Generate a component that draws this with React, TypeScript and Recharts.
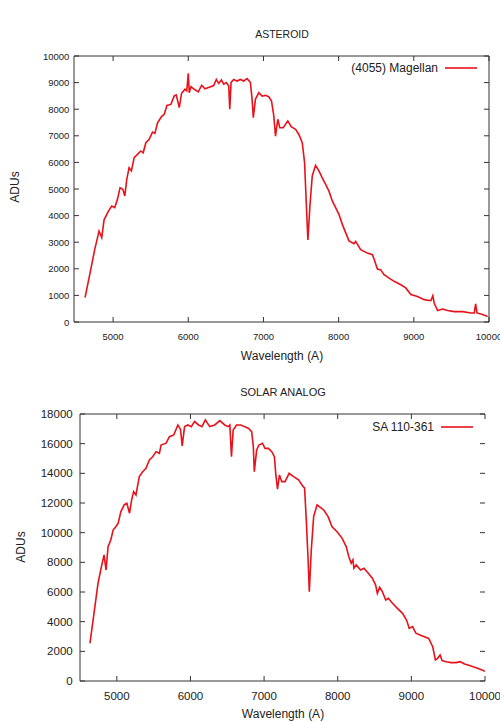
import { Legend, Line, LineChart, XAxis, YAxis } from "recharts";

const FONT = '"Liberation Sans", Arial, sans-serif';
const RED = "#e8121a";
const AXIS = "#333";
const TICK_LEN = 5;

const waveTicks = [5000, 6000, 7000, 8000, 9000, 10000];
const asteroidTicks = [0, 1000, 2000, 3000, 4000, 5000, 6000, 7000, 8000, 9000, 10000];
const solarTicks = [0, 2000, 4000, 6000, 8000, 10000, 12000, 14000, 16000, 18000];

// (4055) Magellan, wavelength (A) and counts
const asteroidWave = [
  4627, 4703, 4756, 4813, 4849, 4880, 4938, 4982, 5022, 5058, 5093, 5129, 5156, 5182, 5213, 5244, 5280, 5324,
  5369, 5400, 5436, 5480, 5524, 5556, 5591, 5644, 5680, 5716, 5769, 5813, 5840, 5880, 5911, 5956, 5980, 6000,
  6013, 6036, 6080, 6133, 6178, 6222, 6271, 6338, 6373, 6404, 6440, 6471, 6507, 6538, 6552, 6569, 6604, 6649,
  6693, 6738, 6782, 6827, 6849, 6865, 6893, 6938, 6982, 7027, 7071, 7107, 7138, 7160, 7191, 7218, 7262, 7324,
  7369, 7427, 7471, 7516, 7547, 7573, 7591, 7618, 7649, 7693, 7738, 7782, 7827, 7871, 7916, 7960, 8004, 8049,
  8093, 8138, 8204, 8227, 8293, 8382, 8449, 8471, 8516, 8560, 8604, 8671, 8738, 8827, 8893, 8960, 9049, 9138,
  9227, 9253, 9271, 9316, 9382, 9449, 9538, 9649, 9760, 9804, 9822, 9840, 9916, 9982,
];
const asteroidFlux = [
  915, 1980, 2730, 3420, 3170, 3840, 4170, 4360, 4300, 4610, 5050, 4990, 4740, 5370, 5800, 5680, 6180, 6300,
  6430, 6360, 6740, 6870, 7140, 7090, 7490, 7720, 7810, 8140, 8180, 8500, 8540, 8060, 8600, 8750, 8690, 9350,
  8620, 8850, 8750, 8650, 8900, 8770, 8820, 8890, 9120, 8970, 9100, 8940, 9000, 8870, 8000, 9000, 9120, 9060,
  9120, 9060, 9150, 9000, 8370, 7680, 8370, 8620, 8490, 8520, 8470, 8310, 7740, 6990, 7620, 7300, 7300, 7560,
  7340, 7240, 7050, 6740, 5990, 4240, 3080, 4360, 5490, 5890, 5680, 5420, 5170, 4920, 4550, 4300, 4050, 3670,
  3360, 3050, 2940, 3030, 2720, 2590, 2530, 2370, 1990, 1960, 1780, 1650, 1530, 1400, 1280, 1030, 960, 840,
  800, 990, 710, 430, 490, 430, 390, 390, 340, 340, 680, 340, 280, 210,
];

// SA 110-361 solar analog
const solarWave = [
  4635, 4690, 4745, 4791, 4827, 4854, 4881, 4918, 4950, 4986, 5018, 5055, 5100, 5136, 5173, 5201, 5228, 5260,
  5305, 5351, 5396, 5442, 5487, 5533, 5578, 5601, 5669, 5715, 5774, 5829, 5865, 5888, 5920, 5965, 6011, 6056,
  6111, 6156, 6202, 6261, 6330, 6398, 6466, 6512, 6535, 6557, 6580, 6626, 6685, 6731, 6785, 6831, 6854, 6867,
  6899, 6930, 6977, 7013, 7058, 7104, 7140, 7158, 7182, 7209, 7240, 7285, 7340, 7400, 7468, 7514, 7550, 7573,
  7596, 7614, 7641, 7673, 7719, 7764, 7810, 7869, 7923, 7991, 8060, 8115, 8151, 8183, 8206, 8220, 8251, 8310,
  8356, 8415, 8470, 8515, 8538, 8570, 8606, 8652, 8688, 8743, 8811, 8880, 8934, 8971, 9016, 9062, 9117, 9176,
  9235, 9290, 9326, 9357, 9390, 9417, 9471, 9540, 9608, 9663, 9722, 9790, 9859, 9927, 10000,
];
const solarFlux = [
  2540, 4560, 6590, 7710, 8500, 7480, 9060, 9510, 10180, 10400, 10630, 11420, 11870, 11980, 11310, 12200, 12770,
  12540, 13780, 14110, 14340, 14900, 15120, 15460, 15350, 15910, 16030, 16470, 16590, 17260, 16960, 15850, 17150,
  17260, 17150, 17490, 17260, 17150, 17600, 17150, 17260, 17550, 17260, 17150, 17260, 15120, 16920, 17260, 17260,
  17150, 17040, 16810, 15800, 14110, 15570, 15910, 16030, 15680, 15680, 15460, 15120, 14000, 12930, 13890, 13440,
  13440, 14000, 13780, 13560, 13220, 13000, 10860, 8380, 6020, 8830, 11080, 11870, 11710, 11530, 11080, 10400,
  10060, 9620, 9060, 8380, 7940, 8160, 7600, 7830, 7490, 7600, 7260, 6930, 6470, 5910, 6320, 6020, 5460, 5580,
  5240, 4900, 4560, 4110, 3550, 3670, 3220, 3100, 2990, 2870, 2310, 1420, 1530, 1750, 1380, 1300, 1240, 1240,
  1300, 1150, 1040, 920, 810, 650,
];

const toRows = (wave: number[], flux: number[]) => wave.map((w, i) => ({ w, f: flux[i] }));

// gnuplot style ticks: short marks pointing into the plot on all four sides, labels outside
const bottomTick = (fontSize: number, gap: number, plotTop: number) => (props: any) => {
  const { x, y, payload } = props;
  return (
    <g>
      <line x1={x} x2={x} y1={y} y2={y - TICK_LEN} stroke={AXIS} />
      <line x1={x} x2={x} y1={plotTop} y2={plotTop + TICK_LEN} stroke={AXIS} />
      <text x={x} y={y + gap} textAnchor="middle" dominantBaseline="central" fill="#222" fontSize={fontSize} fontFamily={FONT}>
        {payload.value}
      </text>
    </g>
  );
};

const leftTick = (fontSize: number, gap: number, plotRight: number) => (props: any) => {
  const { x, y, payload } = props;
  return (
    <g>
      <line x1={x} x2={x + TICK_LEN} y1={y} y2={y} stroke={AXIS} />
      <line x1={plotRight} x2={plotRight - TICK_LEN} y1={y} y2={y} stroke={AXIS} />
      <text x={x - gap} y={y} textAnchor="end" dominantBaseline="central" fill="#222" fontSize={fontSize} fontFamily={FONT}>
        {payload.value}
      </text>
    </g>
  );
};

interface PanelProps {
  rows: { w: number; f: number }[];
  name: string;
  top: number;
  height: number;
  margin: { top: number; right: number; bottom: number; left: number };
  xDomain: [number, number];
  yDomain: [number, number];
  yTicks: number[];
  tickFont: number;
  xGap: number;
  yGap: number;
  legendTop: number;
  legendRight: number;
  rightLine: boolean;
}

function SpectrumPanel(p: PanelProps) {
  const plotTop = p.margin.top + 1;
  const plotRight = 500 - p.margin.right - 1;
  return (
    <div style={{ position: "absolute", left: 0, top: p.top }}>
      <LineChart width={500} height={p.height} data={p.rows} margin={p.margin}>
        <XAxis
          dataKey="w"
          type="number"
          domain={p.xDomain}
          ticks={waveTicks}
          interval={0}
          allowDataOverflow
          height={30}
          stroke={AXIS}
          tickLine={false}
          tickSize={0}
          tickMargin={0}
          tick={bottomTick(p.tickFont, p.xGap, plotTop)}
        />
        <XAxis xAxisId="top" orientation="top" type="number" domain={p.xDomain} height={1} stroke={AXIS} tick={false} tickLine={false} />
        <YAxis
          type="number"
          domain={p.yDomain}
          ticks={p.yTicks}
          interval={0}
          allowDataOverflow
          width={60}
          stroke={AXIS}
          tickLine={false}
          tickSize={0}
          tickMargin={0}
          tick={leftTick(p.tickFont, p.yGap, plotRight)}
        />
        <YAxis
          yAxisId="right"
          orientation="right"
          type="number"
          domain={p.yDomain}
          width={1}
          stroke={AXIS}
          axisLine={p.rightLine}
          tick={false}
          tickLine={false}
        />
        <Legend
          layout="horizontal"
          align="center"
          verticalAlign="middle"
          wrapperStyle={{ top: p.legendTop, right: p.legendRight, left: "auto", width: "auto" }}
          content={() => (
            <div style={{ display: "flex", alignItems: "center", fontFamily: FONT, fontSize: 12, color: "#222", lineHeight: "14px" }}>
              <span>{p.name}</span>
              <svg width={39} height={14} style={{ display: "block" }}>
                <line x1={7} x2={39} y1={7} y2={7} stroke={RED} strokeWidth={1.6} />
              </svg>
            </div>
          )}
        />
        <Line
          dataKey="f"
          name={p.name}
          type="linear"
          stroke={RED}
          strokeWidth={1.6}
          dot={false}
          activeDot={false}
          isAnimationActive={false}
        />
      </LineChart>
    </div>
  );
}

function Caption({ x, y, size, text, rotate }: { x: number; y: number; size: number; text: string; rotate?: boolean }) {
  return (
    <div
      style={{
        position: "absolute",
        left: x,
        top: y,
        transform: `translate(-50%, -50%)${rotate ? " rotate(-90deg)" : ""}`,
        fontFamily: FONT,
        fontSize: size,
        color: "#222",
        whiteSpace: "nowrap",
        lineHeight: 1,
      }}
    >
      {text}
    </div>
  );
}

export default function App() {
  return (
    <div style={{ position: "absolute", left: 0, top: 0, width: 500, height: 722, background: "#fff", overflow: "hidden" }}>
      <SpectrumPanel
        rows={toRows(asteroidWave, asteroidFlux)}
        name="(4055) Magellan"
        top={0}
        height={370}
        margin={{ top: 55, right: 10, bottom: 18, left: 14 }}
        xDomain={[4480, 10000]}
        yDomain={[0, 10000]}
        yTicks={asteroidTicks}
        tickFont={9.5}
        xGap={14}
        yGap={4.6}
        legendTop={61}
        legendRight={23}
        rightLine
      />
      <SpectrumPanel
        rows={toRows(solarWave, solarFlux)}
        name="SA 110-361"
        top={370}
        height={352}
        margin={{ top: 43, right: 14, bottom: 11, left: 20 }}
        xDomain={[4500, 10000]}
        yDomain={[0, 18000]}
        yTicks={solarTicks}
        tickFont={11.5}
        xGap={14.7}
        yGap={7.3}
        legendTop={50}
        legendRight={27}
        rightLine={false}
      />
      <Caption x={282} y={34} size={10.5} text="ASTEROID" />
      <Caption x={282} y={356} size={12} text="Wavelength (A)" />
      <Caption x={15} y={187} size={12} text="ADUs" rotate />
      <Caption x={283} y={391.5} size={11} text="SOLAR ANALOG" />
      <Caption x={283} y={714} size={12} text="Wavelength (A)" />
      <Caption x={20.5} y={547} size={12} text="ADUs" rotate />
    </div>
  );
}
